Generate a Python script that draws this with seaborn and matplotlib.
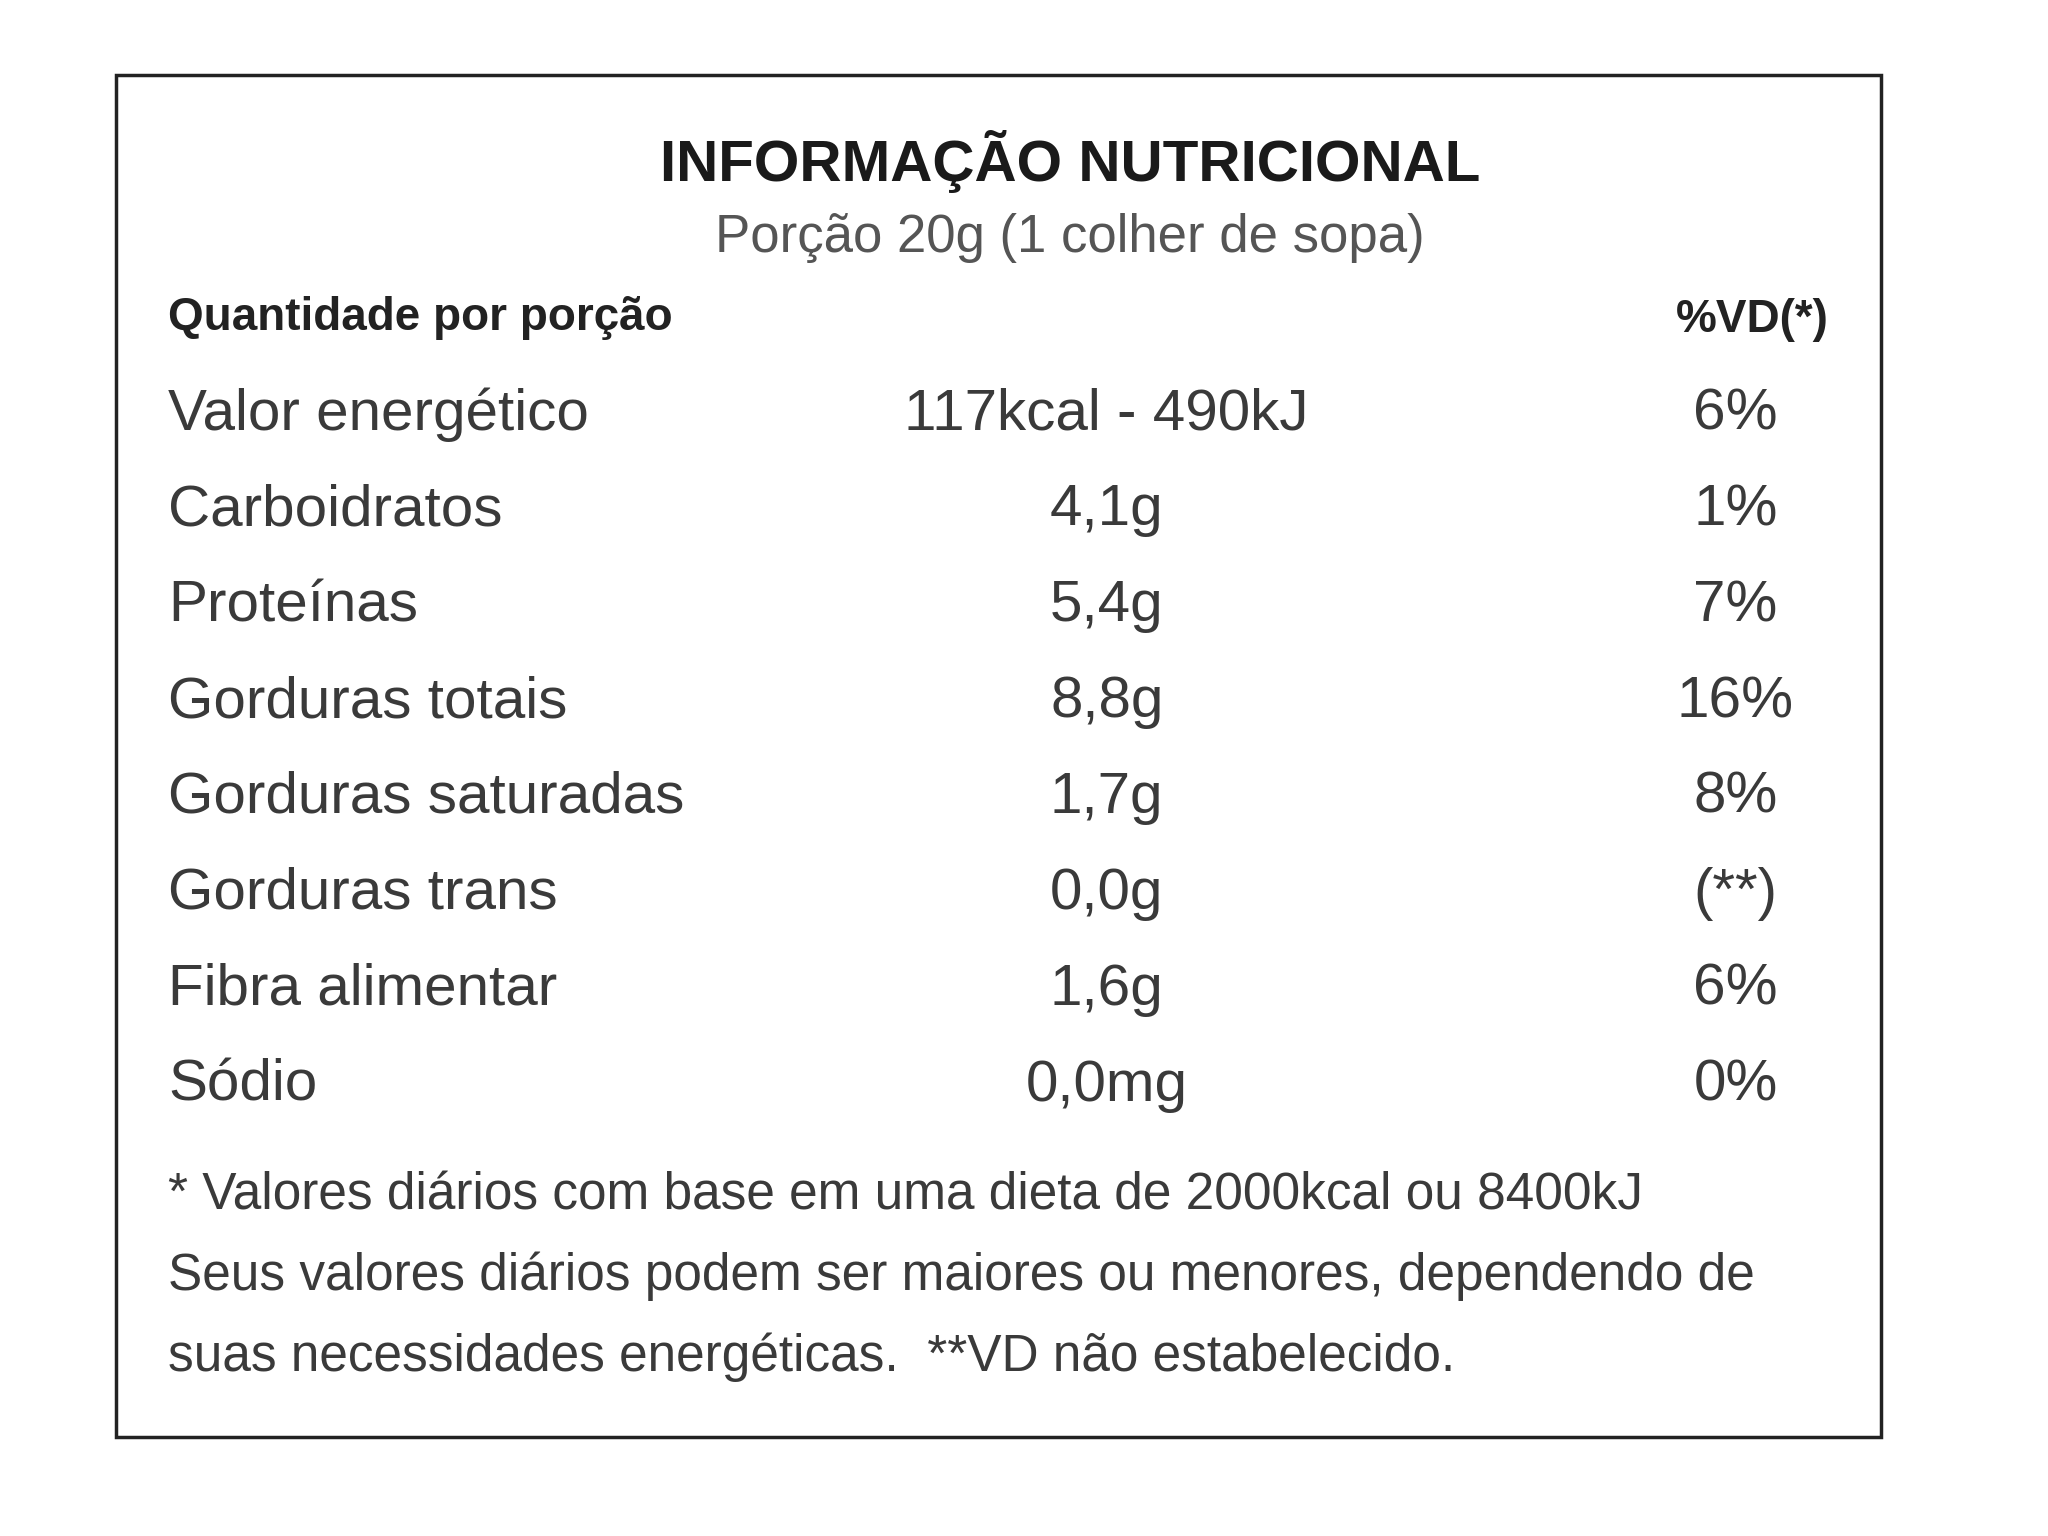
import matplotlib
matplotlib.use("Agg")
import matplotlib.pyplot as plt
import seaborn as sns
from matplotlib.patches import Rectangle

title = "INFORMAÇÃO NUTRICIONAL"
subtitle = "Porção 20g (1 colher de sopa)"
header_left = "Quantidade por porção"
header_right = "%VD(*)"
nutrients = ["Valor energético", "Carboidratos", "Proteínas", "Gorduras totais",
             "Gorduras saturadas", "Gorduras trans", "Fibra alimentar", "Sódio"]
amounts = ["117kcal - 490kJ", "4,1g", "5,4g", "8,8g", "1,7g", "0,0g", "1,6g", "0,0mg"]
vd = ["6%", "1%", "7%", "16%", "8%", "(**)", "6%", "0%"]
footnotes = ["* Valores diários com base em uma dieta de 2000kcal ou 8400kJ",
             "Seus valores diários podem ser maiores ou menores, dependendo de",
             "suas necessidades energéticas.  **VD não estabelecido."]

sns.set_theme(style="white")
matplotlib.rcParams["font.family"] = ["Liberation Sans", "DejaVu Sans"]

fig = plt.figure(figsize=(20.48, 15.36), dpi=100)
ax = fig.add_axes([0, 0, 1, 1])
ax.set_xlim(0, 1560); ax.set_ylim(1160, 0); ax.axis("off")

ax.add_patch(Rectangle((88, 57), 1345, 1028, fill=False, lw=2.5, ec="#222"))
c = "#3a3a3a"
ax.text(815, 122, title, ha="center", va="center", fontsize=42, color="#1a1a1a", fontweight="bold")
ax.text(815, 180, subtitle, ha="center", va="center", fontsize=38, color="#555")
ax.text(128, 240, header_left, ha="left", va="center", fontsize=33, color="#222", fontweight="bold")
ax.text(1393, 242, header_right, ha="right", va="center", fontsize=33, color="#222", fontweight="bold")
for i, (n, a, v) in enumerate(zip(nutrients, amounts, vd)):
    y = 313 + i * 72.4
    ax.text(128, y, n, ha="left", va="center", fontsize=42, color=c)
    ax.text(843, y, a, ha="center", va="center", fontsize=42, color=c)
    ax.text(1322, y, v, ha="center", va="center", fontsize=42, color=c)
for j, f in enumerate(footnotes):
    ax.text(128, 903 + j * 61, f, ha="left", va="center", fontsize=37, color=c)

fig.savefig("out.png", dpi=100, facecolor="white")
